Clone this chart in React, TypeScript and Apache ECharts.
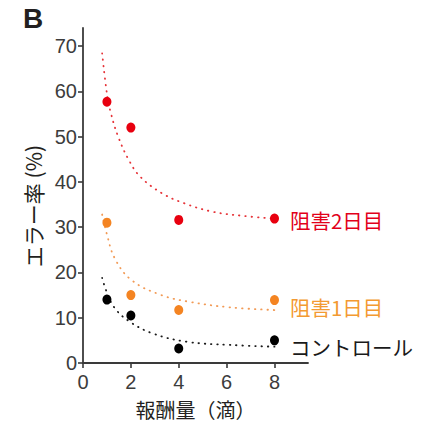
import React, { useEffect, useRef } from "react";
import * as echarts from "echarts";

const doses = [1, 2, 4, 8];
const day2Values = [57.7, 52.0, 31.6, 31.9];
const day1Values = [31.0, 15.0, 11.7, 13.9];
const controlValues = [14.0, 10.5, 3.2, 5.0];

// fitted curves as [x, y]
const day2Curve = [
  [0.8, 68.4], [1.0, 59.5], [1.15, 55.5], [1.47, 50.0], [1.93, 44.7], [2.4, 41.1],
  [3.3, 37.5], [4.22, 35.3], [5.43, 33.4], [6.68, 32.5], [8.0, 31.9],
];
const day1Curve = [
  [0.8, 32.8], [0.99, 28.6], [1.33, 23.1], [2.03, 18.3], [3.28, 15.0], [4.46, 13.5],
  [6.13, 12.3], [8.0, 11.7],
];
const controlCurve = [
  [0.8, 18.8], [0.99, 15.7], [1.33, 12.1], [1.96, 9.1], [2.93, 6.5], [4.32, 4.7],
  [6.13, 4.0], [8.0, 3.6],
];

const xTicks = [0, 2, 4, 6, 8];
const yTicks = [0, 10, 20, 30, 40, 50, 60, 70];

const seriesNames = ["阻害2日目", "阻害1日目", "コントロール"];
const xTitle = "報酬量（滴）";
const yTitle = "エラー率 (%)";
const panelLabel = "B";

const CJK = "Noto Sans CJK JP";
const NUM = "Liberation Sans";

export default function App() {
  const ref = useRef<HTMLDivElement>(null);

  useEffect(() => {
    if (!ref.current) return;
    const chart = echarts.init(ref.current, undefined, { renderer: "svg" });

    const dotColors = ["#e8000f", "#f48422", "#000000"];
    const curveColors = ["#e63338", "#f29a55", "#1a1a1a"];
    const labelColors = ["#e2001a", "#f39a32", "#1a1a1a"];
    const labelOffsets = [[0, 1], [0, 7], [0, 7]];
    const valueSets = [day2Values, day1Values, controlValues];
    const curves = [day2Curve, day1Curve, controlCurve];

    const curveSeries = curves.map((c, k) => ({
      type: "line",
      data: c,
      smooth: 0.4,
      showSymbol: false,
      silent: true,
      z: 1,
      lineStyle: {
        color: curveColors[k],
        width: 1.8,
        type: [0.5, 5.8],
        cap: "round",
      },
    }));

    const dotSeries = valueSets.map((vals, k) => ({
      type: "scatter",
      name: seriesNames[k],
      symbolSize: [9, 10],
      z: 3,
      itemStyle: { color: dotColors[k], opacity: 1 },
      data: doses.map((d, i) =>
        i === doses.length - 1
          ? {
              value: [d, vals[i]],
              label: {
                show: true,
                formatter: seriesNames[k],
                position: "right",
                distance: 11,
                offset: labelOffsets[k],
                color: labelColors[k],
                fontSize: 20.5,
                fontFamily: CJK,
              },
            }
          : [d, vals[i]]
      ),
    }));

    chart.setOption({
      animation: false,
      backgroundColor: "#ffffff",
      grid: { left: 83, top: 28, right: 117, bottom: 66 },
      xAxis: {
        type: "value",
        min: 0,
        max: 9.4,
        interval: 2,
        name: xTitle,
        nameLocation: "middle",
        nameGap: 36,
        nameTextStyle: { fontFamily: CJK, fontSize: 20, color: "#231f20" },
        axisLine: { show: true, onZero: false, lineStyle: { color: "#3a3a3a", width: 1.8 } },
        axisTick: { show: true, length: 5, customValues: xTicks, lineStyle: { color: "#3a3a3a", width: 1.6 } },
        axisLabel: { customValues: xTicks, margin: 9, fontFamily: NUM, fontSize: 20, color: "#3c3c3c" },
        splitLine: { show: false },
      },
      yAxis: {
        type: "value",
        min: 0,
        max: 74,
        interval: 10,
        axisLine: { show: true, onZero: false, lineStyle: { color: "#3a3a3a", width: 1.8 } },
        axisTick: { show: true, length: 5, customValues: yTicks, lineStyle: { color: "#3a3a3a", width: 1.6 } },
        axisLabel: { customValues: yTicks, margin: 6, fontFamily: NUM, fontSize: 20, color: "#3c3c3c" },
        splitLine: { show: false },
      },
      graphic: [
        {
          type: "text",
          x: 23,
          y: 18,
          style: {
            text: panelLabel,
            fontFamily: "Liberation Sans",
            fontWeight: "bold",
            fontSize: 28,
            fill: "#231f20",
            verticalAlign: "middle",
            align: "left",
          },
        },
        {
          type: "text",
          x: 33,
          y: 206,
          rotation: Math.PI / 2,
          style: {
            text: yTitle,
            fontFamily: CJK,
            fontSize: 21,
            fill: "#231f20",
            align: "center",
            verticalAlign: "middle",
          },
        },
      ],
      series: [...curveSeries, ...dotSeries],
    });

    return () => chart.dispose();
  }, []);

  return (
    <div
      ref={ref}
      style={{ position: "absolute", left: 0, top: 0, width: 425, height: 429 }}
    />
  );
}
